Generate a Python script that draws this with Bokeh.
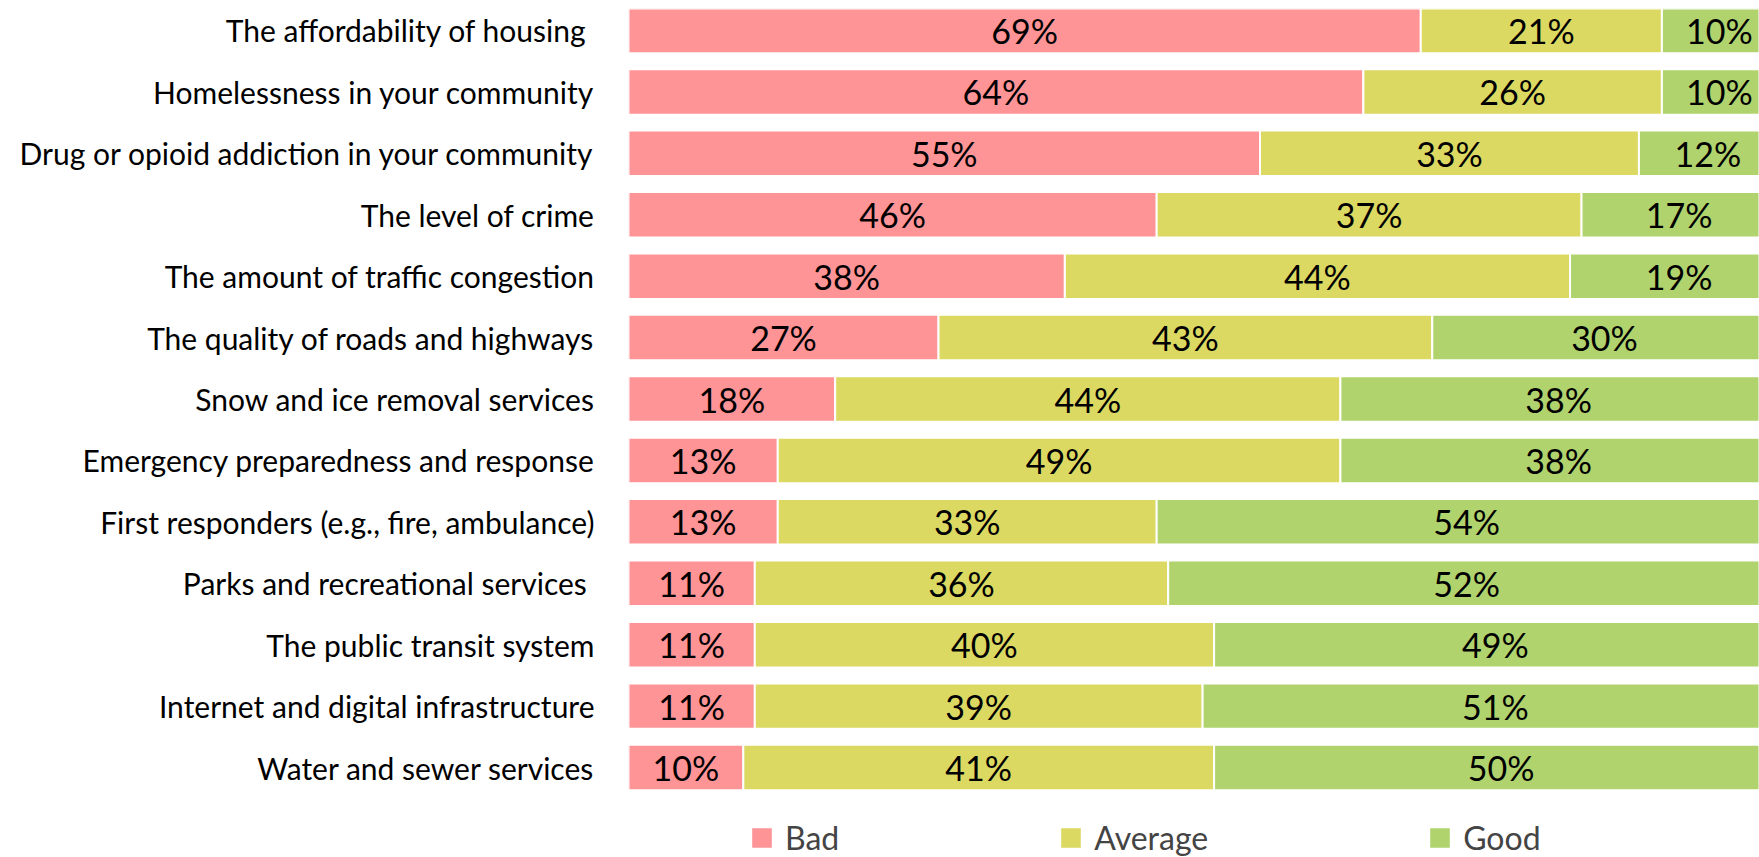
from bokeh.plotting import figure
from bokeh.models import Range1d, FixedTicker, Legend, LegendItem, ColumnDataSource
from bokeh.embed import file_html
from bokeh.resources import INLINE
from bokeh.core.properties import value

categories = [
    "The affordability of housing ",
    "Homelessness in your community",
    "Drug or opioid addiction in your community",
    "The level of crime",
    "The amount of traffic congestion",
    "The quality of roads and highways",
    "Snow and ice removal services",
    "Emergency preparedness and response",
    "First responders (e.g., fire, ambulance)",
    "Parks and recreational services ",
    "The public transit system",
    "Internet and digital infrastructure",
    "Water and sewer services",
]
bad = [69, 64, 55, 46, 38, 27, 18, 13, 13, 11, 11, 11, 10]
average = [21, 26, 33, 37, 44, 43, 44, 49, 33, 36, 40, 39, 41]
good = [10, 10, 12, 17, 19, 30, 38, 38, 54, 52, 49, 51, 50]

series_names = ["Bad", "Average", "Good"]
series_values = [bad, average, good]
colors = ["#FF9497", "#DBD962", "#B0D36E"]

FONT = "Lato"

p = figure(width=1759, height=857, output_backend="svg", toolbar_location=None,
           x_range=Range1d(0, 98.5), y_range=Range1d(13.465, -0.358),
           min_border_left=628, min_border_right=0, min_border_top=8,
           min_border_bottom=0)
p.outline_line_color = None
p.xgrid.visible = False
p.ygrid.visible = False
p.xaxis.visible = False

idx = list(range(len(categories)))
p.yaxis.ticker = FixedTicker(ticks=idx)
p.yaxis.major_label_overrides = {i: c for i, c in zip(idx, categories)}
p.yaxis.axis_line_color = None
p.yaxis.major_tick_line_color = None
p.yaxis.minor_tick_line_color = None
p.yaxis.major_label_standoff = 28
p.yaxis.major_label_text_font = FONT
p.yaxis.major_label_text_font_size = "30px"
p.yaxis.major_label_text_color = "black"

cum = [0] * len(categories)
renderers = []
for name, vals, col in zip(series_names, series_values, colors):
    left = cum[:]
    right = [l + v for l, v in zip(left, vals)]
    mid = [(l + r) / 2 for l, r in zip(left, right)]
    src = ColumnDataSource(dict(y=idx, left=left, right=right, mid=mid,
                                lab=[f"{v}%" for v in vals]))
    r = p.hbar(y="y", left="left", right="right", height=0.74, source=src,
               fill_color=col, line_color="white", line_width=2)
    renderers.append(r)
    p.text(x="mid", y="y", text="lab", source=src, text_align="center",
           text_baseline="middle", text_font=value(FONT),
           text_font_size="34px", text_color="black")
    cum = right

legend = Legend(items=[LegendItem(label=n, renderers=[r]) for n, r in zip(series_names, renderers)],
                orientation="horizontal", location=(120, 0),
                glyph_width=27, glyph_height=27, label_standoff=10, spacing=218,
                label_text_font=FONT, label_text_font_size="32px",
                border_line_color=None, background_fill_alpha=0,
                padding=0, margin=0)
p.add_layout(legend, "center")

open("out.html", "w").write(file_html(p, INLINE))
